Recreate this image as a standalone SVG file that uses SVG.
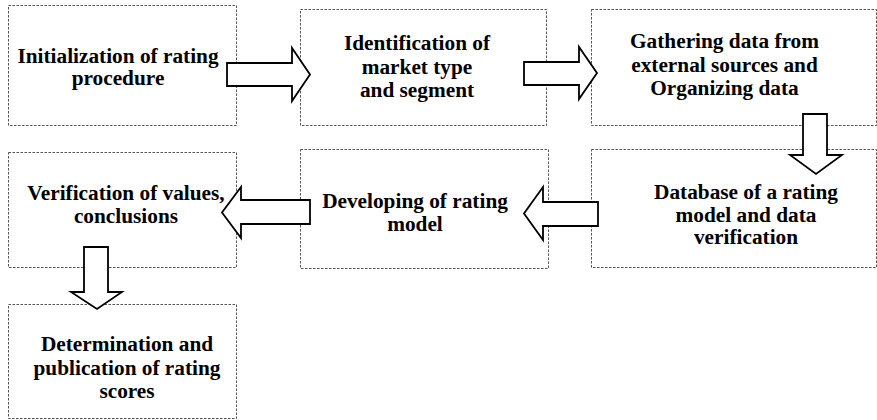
<svg xmlns="http://www.w3.org/2000/svg" width="877" height="420" viewBox="0 0 877 420">
<style>
.box{fill:#fff;stroke:#555;stroke-width:1;stroke-dasharray:2.5,1.5}
.t{font-family:"Liberation Serif","Times New Roman",serif;font-weight:bold;font-size:21.3px;fill:#000;text-anchor:middle}
.arr{fill:#fff;stroke:#000;stroke-width:1.8;stroke-linejoin:miter}
</style>
<rect width="877" height="420" fill="#fff"/>
<g id="n1">
<rect class="box" x="8.5" y="5.5" width="228" height="120"/>
<text class="t" x="118" y="63">Initialization of rating</text>
<text class="t" x="118" y="85">procedure</text>
</g>
<g id="n2">
<rect class="box" x="300.5" y="9.5" width="246" height="116"/>
<text class="t" x="417" y="50">Identification of</text>
<text class="t" x="417" y="74">market type</text>
<text class="t" x="417" y="97">and segment</text>
</g>
<g id="n3">
<rect class="box" x="591.5" y="9.5" width="285" height="116"/>
<text class="t" x="724.5" y="48">Gathering data from</text>
<text class="t" x="724.5" y="72">external sources and</text>
<text class="t" x="724.5" y="95">Organizing data</text>
</g>
<g id="n4">
<rect class="box" x="591.5" y="149.5" width="285" height="118"/>
<text class="t" x="746" y="199">Database of a rating</text>
<text class="t" x="746" y="222">model and data</text>
<text class="t" x="746" y="244">verification</text>
</g>
<g id="n5">
<rect class="box" x="300.5" y="149.5" width="248" height="119"/>
<text class="t" x="415" y="208">Developing of rating</text>
<text class="t" x="415" y="231">model</text>
</g>
<g id="n6">
<rect class="box" x="8.5" y="152.5" width="228" height="115"/>
<text class="t" x="126" y="200">Verification of values,</text>
<text class="t" x="126" y="223">conclusions</text>
</g>
<g id="n7">
<rect class="box" x="8.5" y="304.5" width="228" height="114"/>
<text class="t" x="127" y="351">Determination and</text>
<text class="t" x="127" y="375">publication of rating</text>
<text class="t" x="127" y="398">scores</text>
</g>
<g id="connectors">
<polygon class="arr" points="227,63 292,63 292,48 310,74.5 292,101 292,86 227,86"/>
<polygon class="arr" points="524,62 579,62 579,47 597,73 579,99 579,85 524,85"/>
<polygon class="arr" points="803,114 827,114 827,155 842,155 816,174 790,155 803,155"/>
<polygon class="arr" points="598,202 543,202 543,187 524,213.5 543,240 543,226 598,226"/>
<polygon class="arr" points="310,200 241,200 241,187 222,212.5 241,238 241,224 310,224"/>
<polygon class="arr" points="84,247 108,247 108,292 122,292 97,309 71,292 84,292"/>
</g>
</svg>
